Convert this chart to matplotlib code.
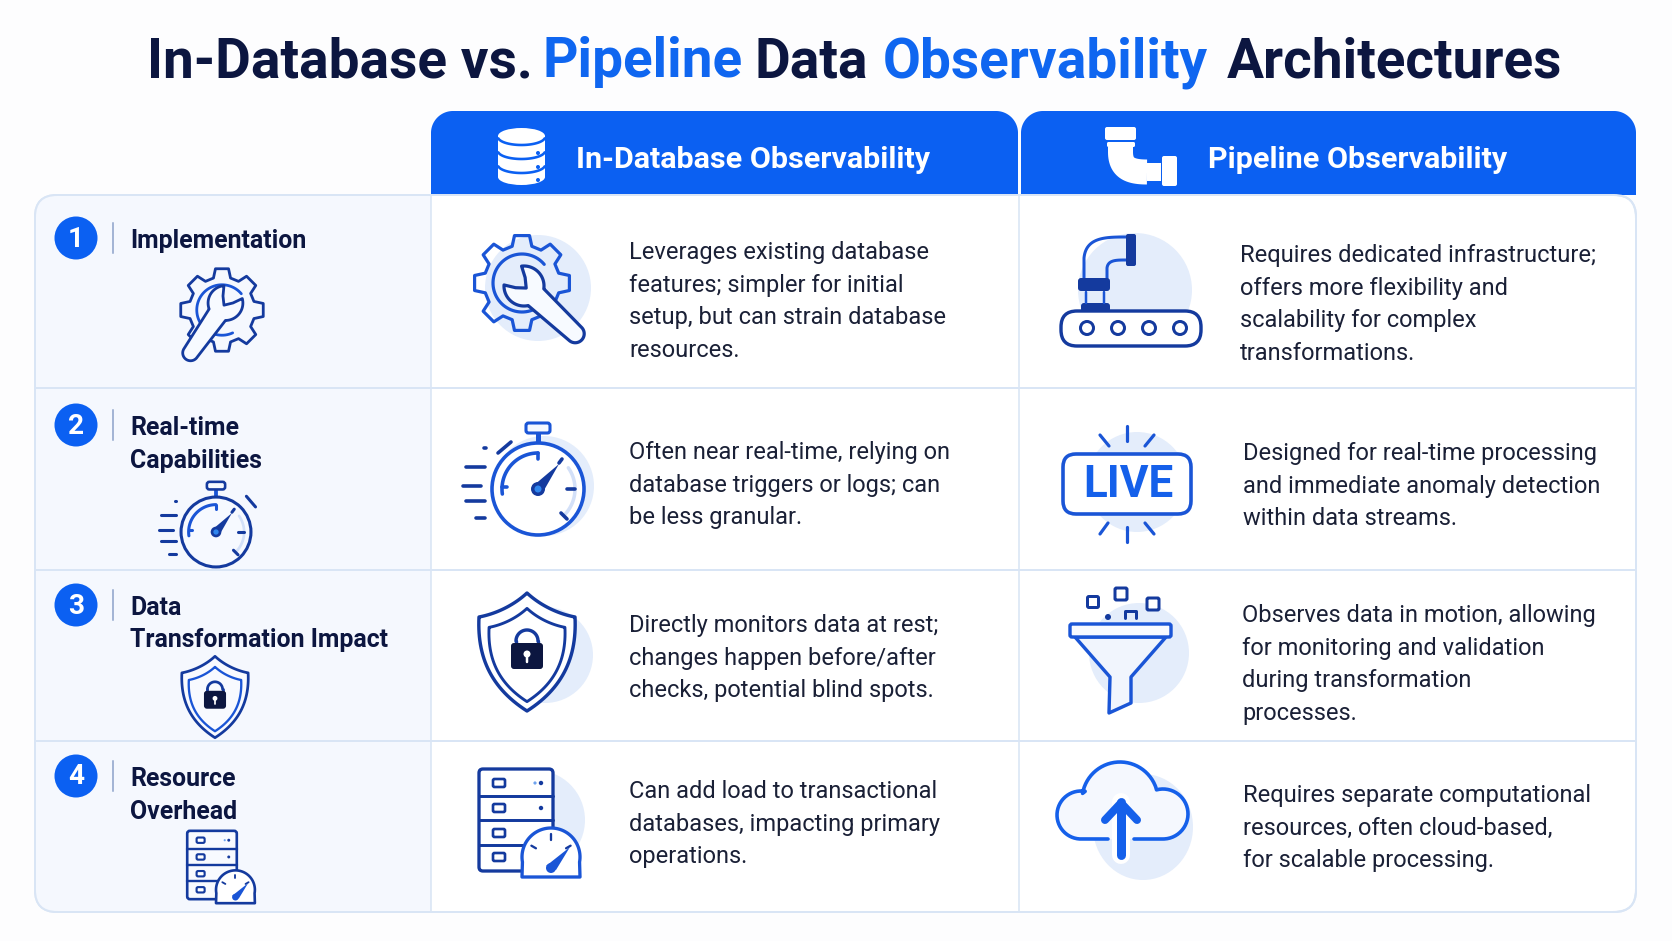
import numpy as np
import matplotlib
matplotlib.use("Agg")
import matplotlib.pyplot as plt
from matplotlib.patches import Circle, Ellipse, FancyBboxPatch, Polygon, Rectangle

# text of the table
title_words = ["In-Database vs.", "Pipeline", "Data", "Observability", "Architectures"]
title_is_blue = [False, True, False, True, False]
column_titles = ["In-Database Observability", "Pipeline Observability"]
row_numbers = ["1", "2", "3", "4"]
row_labels = [
    ["Implementation"],
    ["Real-time", "Capabilities"],
    ["Data", "Transformation Impact"],
    ["Resource", "Overhead"],
]
database_text = [
    ["Leverages existing database", "features; simpler for initial", "setup, but can strain database", "resources."],
    ["Often near real-time, relying on", "database triggers or logs; can", "be less granular."],
    ["Directly monitors data at rest;", "changes happen before/after", "checks, potential blind spots."],
    ["Can add load to transactional", "databases, impacting primary", "operations."],
]
pipeline_text = [
    ["Requires dedicated infrastructure;", "offers more flexibility and", "scalability for complex", "transformations."],
    ["Designed for real-time processing", "and immediate anomaly detection", "within data streams."],
    ["Observes data in motion, allowing", "for monitoring and validation", "during transformation", "processes."],
    ["Requires separate computational", "resources, often cloud-based,", "for scalable processing."],
]

# layout in pixels
title_x = [147, 543, 754, 883, 1227]
label_y = [[248], [435, 468], [615, 647], [786, 819]]
number_y = [238, 425, 605, 776]
database_y = [259, 459, 632, 798]
pipeline_y = [262, 460, 622, 802]
pipeline_x = [1240, 1243, 1242, 1243]
line_gap = 32.6

NAVY = "#0c1640"
HEAD = "#0b60f2"
BLUE = "#1a55d6"
DARK = "#143a9e"
PALE = "#e4edfb"
GRID = "#d9e5f5"
INK = "#1a2036"
FONT = "Roboto"

fig = plt.figure(figsize=(16.72, 9.41), dpi=100, facecolor="#fdfdfe")
ax = fig.add_axes([0, 0, 1, 1])
ax.set_xlim(0, 1672)
ax.set_ylim(941, 0)
ax.axis("off")


def px(w):
    return w * 0.72


def stroke(pts, color=BLUE, w=3.0, fill=None, close=False, z=5, cap="round"):
    pts = np.array(pts, dtype=float)
    if close or fill is not None:
        ax.add_patch(Polygon(pts, closed=close, fc=fill or "none", ec=color, lw=px(w), joinstyle="round", zorder=z))
    else:
        ax.plot(pts[:, 0], pts[:, 1], color=color, lw=px(w), solid_capstyle=cap, solid_joinstyle="round", zorder=z)


def arc(cx, cy, r, a0, a1, ry=None):
    a = np.radians(np.linspace(a0, a1, 60))
    return np.column_stack([cx + r * np.cos(a), cy + (ry or r) * np.sin(a)])


def bez(p0, p1, p2, p3):
    t = np.linspace(0, 1, 30)[:, None]
    p0, p1, p2, p3 = [np.array(p, dtype=float) for p in (p0, p1, p2, p3)]
    return (1 - t) ** 3 * p0 + 3 * (1 - t) ** 2 * t * p1 + 3 * (1 - t) * t ** 2 * p2 + t ** 3 * p3


def round_box(x0, y0, x1, y1, r, fc, ec="none", w=0, z=5):
    p = FancyBboxPatch((x0, y0), x1 - x0, y1 - y0, boxstyle=f"round,pad=0,rounding_size={r}",
                       fc=fc, ec=ec, lw=px(w), zorder=z)
    ax.add_patch(p)
    return p


def blob(cx, cy, r):
    ax.add_patch(Circle((cx, cy), r, fc=PALE, ec="none", zorder=2))


def gear_icon(cx, cy, s, angle=43, head=(2, 3)):
    w = 3.2 * max(s, 0.8)
    pts = []
    for k in range(8):
        a = -90 + k * 45
        for da, r in [(-15, 38), (-9, 48), (9, 48), (15, 38)]:
            t = np.radians(a + da)
            pts.append((cx + s * r * np.cos(t), cy + s * r * np.sin(t)))
    stroke(pts, BLUE if s > 0.9 else DARK, w, close=True)
    stroke(arc(cx, cy, 29 * s, 65, 320), BLUE, w)
    # wrench along its own axis
    uv = list(arc(0, 0, 20, 140, 35)) + list(arc(70, 0, 9, 90, -90)) + list(arc(0, 0, 20, -35, -140))
    uv += [(-5, -7), (3, 0), (-5, 7)]
    uv = np.array(uv) * s
    c, n = np.cos(np.radians(angle)), np.sin(np.radians(angle))
    xy = np.column_stack([cx + head[0] * s + uv[:, 0] * c - uv[:, 1] * n, cy + head[1] * s + uv[:, 0] * n + uv[:, 1] * c])
    stroke(xy, DARK, w, fill="#f7faff", close=True, z=6)


def stopwatch_icon(cx, cy, s):
    color = DARK if s < 0.9 else BLUE
    w = 3.6 * max(s, 0.85)
    if s > 0.9:
        ax.add_patch(Circle((cx + 6, cy - 3), 50, fc=PALE, ec="none", zorder=2))
    ax.add_patch(Circle((cx, cy), 46 * s, fc="white" if s > 0.9 else "#f6f9ff", ec=color, lw=px(w), zorder=5))
    stroke([(cx, cy - 66 * s + 10 * s), (cx, cy - 46 * s)], BLUE, 5 * s, z=4, cap="butt")
    round_box(cx - 12 * s, cy - 66 * s, cx + 12 * s, cy - 56 * s, 2.5, "#f6f9ff", color, w * 0.85, z=6)
    stroke(arc(cx, cy, 36 * s, 172, 270), BLUE, w)
    stroke([(cx - 36 * s, cy - 2 * s), (cx - 31 * s, cy - 2 * s)], BLUE, w)
    stroke([(cx, cy - 36 * s), (cx, cy - 30 * s)], BLUE, w)
    stroke(arc(cx, cy, 37 * s, -35, 45), "#d3e0f8", 3.5 * s, z=5)
    stroke([(cx + 24 * s, cy - 30 * s), (cx + 21 * s, cy - 26 * s)], DARK, w)
    stroke([(cx + 29 * s, cy), (cx + 37 * s, cy)], DARK, w)
    stroke([(cx + 23 * s, cy + 24 * s), (cx + 29 * s, cy + 30 * s)], DARK, w)
    ax.add_patch(Polygon([(cx - 5 * s, cy - 3 * s), (cx + 21 * s, cy - 25 * s), (cx + 5 * s, cy + 3 * s)], fc=DARK, ec="none", zorder=6))
    ax.add_patch(Circle((cx, cy), 7 * s, fc=DARK, ec="none", zorder=7))
    ax.add_patch(Circle((cx, cy), 3.5 * s, fc="#2f86ee", ec="none", zorder=8))
    for y, x0, x1 in [(-22, -72, -53), (-3, -75, -57), (12, -72, -53), (29, -62, -53)]:
        stroke([(cx + x0 * s, cy + y * s), (cx + x1 * s, cy + y * s)], DARK, w)
    stroke([(cx - 54 * s, cy - 41 * s), (cx - 52 * s, cy - 41 * s)], DARK, w)
    stroke([(cx - 40 * s, cy - 36 * s), (cx - 27 * s, cy - 47 * s)] if s > 0.9 else
           [(cx + 40 * s, cy - 47 * s), (cx + 52 * s, cy - 33 * s)], DARK, w)


def shield_points(cx, cy, k):
    left = np.vstack([
        bez((0, -59), (-14, -46), (-32, -38), (-48, -35)),
        bez((-48, -35), (-50, 5), (-36, 36), (0, 59)),
    ])
    pts = np.vstack([left, (left * [-1, 1])[::-1]])
    return np.column_stack([cx + pts[:, 0] * k, cy + pts[:, 1] * k])


def shield_icon(cx, cy, s):
    w = 3.4 * max(s, 0.8)
    ax.add_patch(Polygon(shield_points(cx, cy, s), closed=True, fc="white" if s > 0.9 else "#f8faff", ec=DARK, lw=px(w), joinstyle="round", zorder=5))
    stroke(shield_points(cx, cy + 3 * s, s * 0.79), BLUE if s < 0.9 else DARK, w * 0.85, close=True, z=6)
    stroke(arc(cx, cy - 11 * s, 11 * s, 180, 360), DARK, w)
    stroke([(cx - 11 * s, cy - 11 * s), (cx - 11 * s, cy - 6 * s)], DARK, w)
    stroke([(cx + 11 * s, cy - 11 * s), (cx + 11 * s, cy - 6 * s)], DARK, w)
    round_box(cx - 16 * s, cy - 9 * s, cx + 16 * s, cy + 17 * s, 3, NAVY, z=7)
    ax.add_patch(Circle((cx, cy + 2 * s), 3.5 * s, fc="white", ec="none", zorder=8))
    stroke([(cx, cy + 3 * s), (cx, cy + 10 * s)], "white", 2.5 * s, z=8)


def server_icon(cx, cy, s):
    w = 3.3 * max(s, 0.8)
    round_box(cx - 37 * s, cy - 51 * s, cx + 37 * s, cy + 51 * s, 4 * s, "white" if s > 0.9 else "#f8faff", DARK, w, z=5)
    for y in (-24.5, -0.5, 24.5):
        stroke([(cx - 37 * s, cy + y * s), (cx + 37 * s, cy + y * s)], DARK, w * 0.9)
    for y in (-37, -12, 13, 37):
        round_box(cx - 23 * s, cy + (y - 4) * s, cx - 11 * s, cy + (y + 4) * s, 1.5, "white", DARK, w * 0.8, z=6)
    for y in (-37, -12):
        ax.add_patch(Circle((cx + 25 * s, cy + y * s), 2.2 * s, fc=DARK, ec="none", zorder=6))
    ax.add_patch(Circle((cx + 19 * s, cy - 37 * s), 1.6 * s, fc="#6fa3ee", ec="none", zorder=6))
    # gauge on the lower right corner
    gx, gy, gr = cx + 35 * s, cy + 37 * s, 29 * s
    dome = np.vstack([arc(gx, gy, gr, 170, 370), [(gx + gr, gy + 20 * s), (gx - gr, gy + 20 * s)]])
    stroke(dome, BLUE if s > 0.9 else DARK, w, fill="white", close=True, z=7)
    for a in (210, 270, 330):
        t = np.radians(a)
        stroke([(gx + gr * 0.78 * np.cos(t), gy + gr * 0.78 * np.sin(t)),
                (gx + gr * 0.6 * np.cos(t), gy + gr * 0.6 * np.sin(t))], DARK, w * 0.7, z=8)
    ax.add_patch(Polygon([(gx - 5 * s, gy + 9 * s), (gx + 19 * s, gy - 10 * s), (gx + 5 * s, gy + 13 * s)], fc=BLUE, ec="none", zorder=8))
    ax.add_patch(Circle((gx, gy + 11 * s), 5 * s, fc=BLUE, ec="none", zorder=8))


# backgrounds of header and table
header_parts = [(431, 1018), (1021, 1636)]
for x0, x1 in header_parts:
    pts = np.vstack([[(x0, 195)], arc(x0 + 22, 133, 22, 180, 270), arc(x1 - 22, 133, 22, 270, 360), [(x1, 195)]])
    ax.add_patch(Polygon(pts, closed=True, fc=HEAD, ec="none", zorder=1))

table = round_box(35, 195, 1636, 912, 22, "white", GRID, 2, z=0.5)
left_col = Rectangle((35, 195), 396, 717, fc="#f5f8fe", ec="none", zorder=0.6)
ax.add_patch(left_col)
left_col.set_clip_path(table)
round_box(35, 195, 1636, 912, 22, "none", GRID, 2, z=1)
for y in (388, 570, 741):
    ax.plot([35, 1636], [y, y], color=GRID, lw=px(2), zorder=1)
for x in (431, 1019):
    ax.plot([x, x], [195, 912], color=GRID, lw=px(1.6), zorder=1)

# title
for word, x, blue in zip(title_words, title_x, title_is_blue):
    ax.text(x, 77, word, fontsize=px(55), fontweight="bold", family=FONT, color="#0f66f0" if blue else NAVY,
            va="baseline", ha="left", zorder=9)

ax.text(576, 168, column_titles[0], fontsize=px(30.5), fontweight="bold", family=FONT, color="white", va="baseline", zorder=9)
ax.text(1208, 168, column_titles[1], fontsize=px(30.5), fontweight="bold", family=FONT, color="white", va="baseline", zorder=9)

# row heads
for i, num in enumerate(row_numbers):
    ax.add_patch(Circle((76, number_y[i]), 21.5, fc=HEAD, ec="none", zorder=5))
    ax.text(76, number_y[i] + 1, num, fontsize=px(28), fontweight="bold", family=FONT, color="white", ha="center", va="center", zorder=6)
    ax.plot([113, 113], [number_y[i] - 15, number_y[i] + 15], color="#8aa0c8", lw=px(1.5), zorder=4)
    for line, y in zip(row_labels[i], label_y[i]):
        ax.text(130, y, line, fontsize=px(24.9), fontweight="bold", family=FONT, color=NAVY, va="baseline", zorder=9)

# body text
for i in range(4):
    for k, line in enumerate(database_text[i]):
        ax.text(629, database_y[i] + k * line_gap, line, fontsize=px(23.6), family=FONT, color=INK, va="baseline", zorder=9)
    for k, line in enumerate(pipeline_text[i]):
        ax.text(pipeline_x[i], pipeline_y[i] + k * line_gap, line, fontsize=px(23.6), family=FONT, color=INK, va="baseline", zorder=9)

# icons of the database column and the left column
blob(538, 288, 53)
gear_icon(522, 283, 1)
gear_icon(222, 310, 0.87, angle=125, head=(4, -8))
stopwatch_icon(538, 489, 1)
stopwatch_icon(216, 532, 0.76)
blob(545, 655, 48)
shield_icon(527, 652, 1)
shield_icon(215, 697, 0.69)
blob(535, 820, 50)
server_icon(516, 820, 1)
server_icon(212, 865, 0.67)

# database header icon
ax.add_patch(Ellipse((521.5, 136), 47, 16, fc="white", ec="none", zorder=5))
ax.add_patch(Ellipse((521.5, 177), 47, 16, fc="white", ec="none", zorder=5))
ax.add_patch(Rectangle((498, 136), 47, 41, fc="white", ec="none", zorder=5))
for y in (137, 151, 165):
    stroke(arc(521.5, y, 23.5, 10, 170, 8), HEAD, 2.6, z=6)
for y in (153, 167, 180):
    ax.add_patch(Circle((538, y), 2, fc=HEAD, ec="none", zorder=6))

# pipe header icon
round_box(1105, 127, 1136, 140, 2, "white", z=5)
round_box(1107, 142, 1135, 147, 1.5, "white", z=5)
stroke(np.vstack([[(1120.5, 147)], bez((1120.5, 152), (1120.5, 168), (1130, 172), (1147, 172))]), "white", 25, z=5, cap="butt")
ax.add_patch(Rectangle((1147, 163), 14, 18, fc="white", ec="none", zorder=5))
round_box(1162, 156, 1177, 186, 2, "white", z=5)

# conveyor
blob(1135, 290, 57)
round_box(1061, 311, 1201, 346, 16, "white", DARK, 3.4)
for x in (1087, 1118, 1149, 1180):
    ax.add_patch(Circle((x, 328), 6.5, fc="white", ec=DARK, lw=px(3), zorder=6))
stroke(np.vstack([[(1084, 278)], bez((1084, 258), (1086, 237), (1106, 237), (1126, 237))]), BLUE, 3)
stroke(np.vstack([[(1107, 278)], bez((1107, 268), (1108, 260), (1116, 260), (1126, 260))]), BLUE, 3)
round_box(1126, 234, 1136, 266, 2, DARK)
round_box(1078, 278, 1110, 291, 3, DARK)
round_box(1081, 303, 1110, 312, 3, DARK)
stroke([(1086, 292), (1086, 303)], BLUE, 2.5)
stroke([(1104, 292), (1104, 303)], BLUE, 2.5)

# live badge
blob(1137, 482, 50)
round_box(1063, 454, 1191, 514, 13, "white", BLUE, 3.6)
ax.text(1128, 485, "LIVE", fontsize=px(44), fontweight="bold", family=FONT, color="#1560ea", ha="center", va="center", zorder=7)
for p0, p1 in [((1127, 426), (1127, 441)), ((1100, 435), (1109, 446)), ((1154, 435), (1145, 446)),
               ((1127, 527), (1127, 542)), ((1108, 523), (1100, 534)), ((1145, 523), (1154, 534))]:
    stroke([p0, p1], BLUE, 3.2)

# funnel
blob(1139, 653, 50)
stroke([(1075, 637), (1110, 677), (1109, 713), (1131, 703), (1131, 677), (1166, 637)], BLUE, 3.4, fill="#f1f5fd", close=True)
round_box(1070, 624, 1171, 637, 2, "#f8faff", BLUE, 3.4, z=6)
for x, y, size in [(1093, 602, 11), (1121, 594, 12), (1153, 604, 12)]:
    round_box(x - size / 2, y - size / 2, x + size / 2, y + size / 2, 1.5, "white", DARK, 3)
stroke([(1125, 618), (1125, 611), (1136, 611), (1136, 618)], DARK, 3)
ax.add_patch(Circle((1108, 617), 3, fc=DARK, ec="none", zorder=5))

# cloud
ax.add_patch(Ellipse((1143, 827), 100, 106, fc=PALE, ec="none", zorder=2))
outline = np.vstack([[(1108, 839)], arc(1081, 815, 24, 90, 280), arc(1120, 800, 38, 190, 340), arc(1163, 814, 25, 255, 450), [(1134, 839)]])
ax.add_patch(Polygon(outline, closed=True, fc="#f5f8fe", ec="none", zorder=3))
stroke(outline, "#1560ea", 3.6)
stroke([(1121, 802), (1121, 855)], "white", 18, z=5)
stroke([(1121, 802), (1121, 855)], "#1560ea", 9, z=6)
stroke([(1105, 820), (1121, 803), (1137, 820)], "#1560ea", 8, z=6)

fig.savefig("out.png", dpi=100, facecolor=fig.get_facecolor())
